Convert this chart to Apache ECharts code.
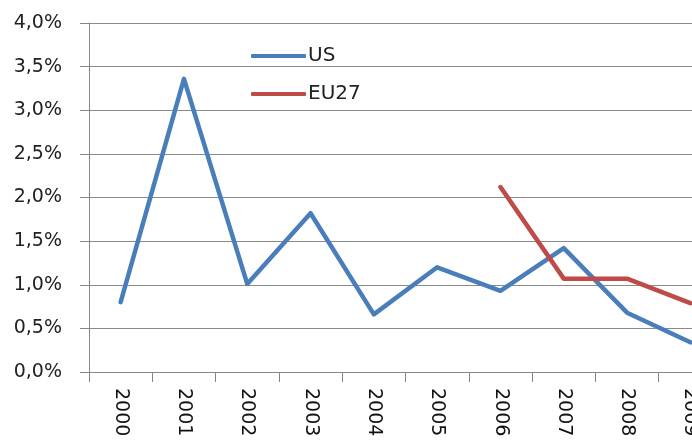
<!DOCTYPE html>
<html>
<head>
<meta charset="utf-8">
<script src="https://cdn.jsdelivr.net/npm/echarts@6/dist/echarts.min.js"></script>
<style>
html,body{margin:0;padding:0;background:#fff;}
#main{width:692px;height:441px;}
</style>
</head>
<body>
<div id="main"></div>
<script>
var years = ['2000','2001','2002','2003','2004','2005','2006','2007','2008','2009'];
var usValues = [0.80, 3.36, 1.01, 1.82, 0.66, 1.20, 0.93, 1.42, 0.68, 0.34];
var eu27Values = [null, null, null, null, null, null, 2.12, 1.07, 1.07, 0.79];
var yTicks = [0, 0.5, 1.0, 1.5, 2.0, 2.5, 3.0, 3.5, 4.0];

function createOption(){
	// 配置项
	var option = {
		animation: false,
		textStyle: { fontFamily: 'DejaVu Sans' },
		legend: {
			orient: 'vertical',
			left: 246,
			top: 41,
			itemWidth: 55,
			itemHeight: 4,
			itemGap: 18,
			icon: 'roundRect',
			textStyle: { fontSize: 20, color: '#222', padding: [0, 0, 0, -3] },
			data: ['US', 'EU27']
		},
		grid: {
			left: 89,
			width: 633,
			top: 23,
			bottom: 69,
			containLabel: false,
			outerBoundsMode: 'none'
		},
		xAxis: {
			type: 'category',
			boundaryGap: true,
			data: years,
			axisLine: { lineStyle: { color: '#868686', width: 1 } },
			axisTick: { show: true, length: 10, lineStyle: { color: '#868686' } },
			axisLabel: { rotate: -90, fontSize: 19, color: '#111', margin: 16, interval: 0 }
		},
		yAxis: {
			type: 'value',
			min: yTicks[0],
			max: yTicks[yTicks.length - 1],
			interval: 0.5,
			axisLine: { show: true, lineStyle: { color: '#868686', width: 1 } },
			axisTick: { show: true, length: 9, lineStyle: { color: '#868686' } },
			splitLine: { lineStyle: { color: '#8a8a8a', width: 1 } },
			axisLabel: {
				fontSize: 19,
				color: '#222',
				margin: 27,
				formatter: function (v) { return v.toFixed(1).replace('.', ',') + '%'; }
			}
		},
		series: [
			{
				name: 'US',
				type: 'line',
				data: usValues,
				showSymbol: false,
				symbol: 'none',
				color: '#4a7ebb',
				lineStyle: { width: 4.5, color: '#4a7ebb', cap: 'round', join: 'round' }
			},
			{
				name: 'EU27',
				type: 'line',
				data: eu27Values,
				showSymbol: false,
				symbol: 'none',
				color: '#be4b48',
				lineStyle: { width: 4.5, color: '#be4b48', cap: 'round', join: 'round' }
			}
		]
	};
	return option;
}

var myChart = echarts.init(document.getElementById('main'));
myChart.setOption(createOption());
</script>
</body>
</html>
